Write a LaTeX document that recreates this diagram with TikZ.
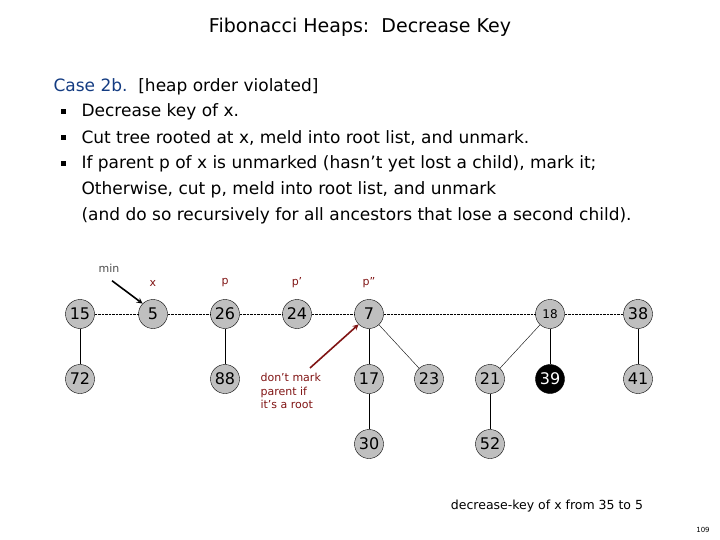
\documentclass[tikz,border=0pt]{standalone}
\usepackage{fontspec}
\setmainfont{DejaVu Sans}
\usetikzlibrary{positioning}
\definecolor{darkred}{RGB}{128,20,20}
\definecolor{caseblue}{RGB}{20,60,130}
\newcommand{\sq}{\symbol{39}}

\begin{document}
\begin{tikzpicture}[
x=1pt,y=-1pt,
>=stealth,
heapnode/.style={
	circle,
	draw=black,
	fill=black!25,
	minimum size=29pt,
	inner sep=0pt,
	font=\fontsize{16}{16}\selectfont
},
marked/.style={
	heapnode,
	fill=black,
	text=white
},
rootlink/.style={
	densely dotted,
	thin
},
childlink/.style={
	thin
},
tag/.style={
	text=darkred,
	font=\fontsize{11}{11}\selectfont
},
bodytext/.style={
	anchor=west,
	font=\fontsize{17}{17}\selectfont
}
]
\useasboundingbox (0,0) rectangle (720,540);

% title and text
\node (title) at (360,27) {\fontsize{19}{19}\selectfont Fibonacci Heaps:\ \ Decrease Key};
\node[bodytext] (case) at (50,87) {\textcolor{caseblue}{Case 2b.}\ \ [heap order violated]};
\foreach \y/\t in {112/Decrease key of x.,
	138/{Cut tree rooted at x, meld into root list, and unmark.},
	164/{If parent p of x is unmarked (hasn\sq t yet lost a child), mark it;}}
\node[bodytext] at (78,\y) {\t};
\foreach \y in {112,138,164}
\fill (61,\y-2.5) rectangle (66,\y+2.5);
\node[bodytext] at (78,190) {Otherwise, cut p, meld into root list, and unmark};
\node[bodytext] at (78,216) {(and do so recursively for all ancestors that lose a second child).};

% roots
\foreach \n/\x in {15/80,5/153,26/225,24/297,7/369,38/638}
\node[heapnode] (n\n) at (\x,314) {\n};
\node[heapnode,font=\fontsize{12}{12}\selectfont] (n18) at (550,314) {18};
% children
\foreach \n/\x in {72/80,88/225,17/369,23/429,21/490,41/638}
\node[heapnode] (n\n) at (\x,379) {\n};
\node[marked] (n39) at (550,379) {39};
\foreach \n/\x in {30/369,52/490}
\node[heapnode] (n\n) at (\x,444) {\n};

\draw[rootlink] (n15) -- (n5) -- (n26) -- (n24) -- (n7) -- (n18) -- (n38);
\foreach \a/\b in {15/72,26/88,7/17,7/23,17/30,18/21,18/39,21/52,38/41}
\draw[childlink] (n\a) -- (n\b);

% labels
\node[tag] (lx) at (153,283) {x};
\node[tag] (lp) at (225,283) {p};
\node[tag] (lp1) at (297,283) {p\sq};
\node[tag] (lp2) at (369,283) {p\symbol{34}};
\node[text=black!70,font=\fontsize{11}{11}\selectfont] (min) at (109,268) {min};
\draw[->,line width=1.6pt] (min.south) ++(3,5) coordinate (m1) -- (n5.north west);
\node[tag,anchor=north west,align=left,font=\fontsize{11}{13.5}\selectfont] (note) at (257,370) {don\sq t mark\\parent if\\it\sq s a root};
\coordinate (a1) at (310,368);
\draw[->,line width=1.6pt,darkred] (a1) -- (n7.south west);

\node[font=\fontsize{12.5}{12.5}\selectfont] (cap) at (547,506) {decrease-key of x from 35 to 5};
\node[font=\fontsize{7}{7}\selectfont] (pg) at (703,530) {109};
\end{tikzpicture}
\end{document}
